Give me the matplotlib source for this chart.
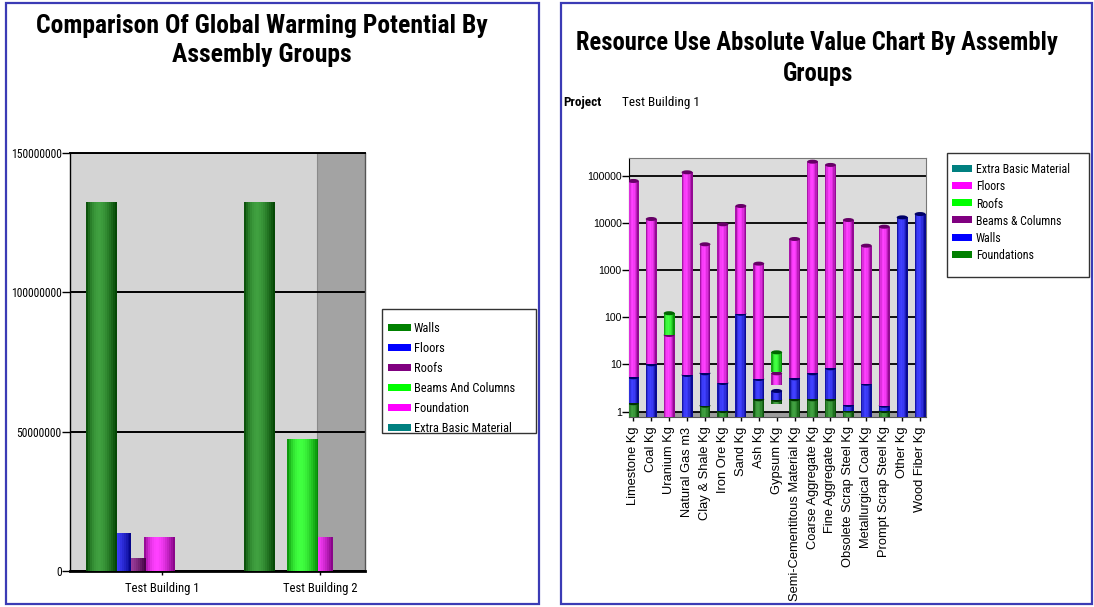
import numpy as np
import matplotlib
matplotlib.use("Agg")
import matplotlib.pyplot as plt
from matplotlib import font_manager as fm
from matplotlib.patches import Rectangle, Ellipse
from matplotlib.transforms import ScaledTranslation
from matplotlib.colors import to_rgb
from matplotlib.ticker import NullLocator
from matplotlib.textpath import TextPath
from matplotlib.font_manager import FontProperties

REGULAR = ["Liberation Sans", "DejaVu Sans"]

# ---- Global warming potential by assembly group ----
gwp_projects = ["Test Building 1", "Test Building 2"]
gwp_series = ["Walls", "Floors", "Roofs", "Beams And Columns", "Foundation",
              "Extra Basic Material"]
gwp_colors = ["#008000", "#0000ff", "#800080", "#00ff00", "#ff00ff", "#008080"]
gwp_walls = [132500000, 132500000]
gwp_floors = [13500000, 0]
gwp_roofs = [4600000, 0]
gwp_beams = [0, 47400000]
gwp_foundation = [12300000, 12300000]
gwp_extra = [0, 0]
gwp_yticks = [0, 50000000, 100000000, 150000000]

# ---- Resource use, stacked by assembly group (segment from / to values) ----
resources = ["Limestone Kg", "Coal Kg", "Uranium Kg", "Natural Gas m3",
             "Clay & Shale Kg", "Iron Ore Kg", "Sand Kg", "Ash Kg", "Gypsum Kg",
             "Semi-Cementitous Material Kg", "Coarse Aggregate Kg",
             "Fine Aggregate Kg", "Obsolete Scrap Steel Kg",
             "Metallurgical Coal Kg", "Prompt Scrap Steel Kg", "Other Kg",
             "Wood Fiber Kg"]
ru_foundations = [(0, 1.51), None, None, None, (0, 1.34), (0, 1.03), None,
                  (0, 1.83), (1.44, 1.77), (0, 1.83), (0, 1.83), (0, 1.83),
                  (0, 1.05), None, (0, 1.03), None, None]
ru_walls = [(1.51, 5.36), (0, 10.1), None, (0, 6.0), (1.34, 6.5), (1.03, 4.05),
            (0, 119), (1.83, 4.93), (1.77, 2.75), (1.83, 5.1), (1.83, 6.5),
            (1.83, 8.3), (1.05, 1.39), (0, 3.92), (1.03, 1.34), (0, 13100),
            (0, 15400)]
ru_floors = [(5.36, 77300), (10.1, 12100), (0, 42.2), (6.0, 118000),
             (6.5, 3520), (4.05, 9340), (119, 22800), (4.93, 1370),
             (3.68, 6.5), (5.1, 4560), (6.5, 198000), (8.3, 169000),
             (1.39, 11500), (3.92, 3290), (1.34, 8300), None, None]
ru_roofs = [None, None, (42.2, 122), None, None, None, None, None, (7.0, 18.1),
            None, None, None, None, None, None, None, None]
ru_legend = ["Extra Basic Material", "Floors", "Roofs", "Beams & Columns",
             "Walls", "Foundations"]
ru_legend_colors = ["#008080", "#ff00ff", "#00ff00", "#800080", "#0000ff",
                    "#008000"]
ru_yticks = [1, 10, 100, 1000, 10000, 100000]


# ---- condensed font: first narrow face that is installed ----
def pick_condensed():
    have = [(f.name, f.stretch) for f in fm.fontManager.ttflist]
    names = {n for n, _ in have}
    for fam in ("Liberation Sans Narrow", "Arial Narrow", "Roboto Condensed",
                "Open Sans Condensed", "Noto Sans Condensed",
                "DejaVu Sans Condensed"):
        if fam in names:
            return fam, "normal"
    for fam in ("Noto Sans", "DejaVu Sans", "Open Sans", "Roboto"):
        for st in ("condensed", "semi-condensed"):
            if (fam, st) in have:
                return fam, st
    return "Liberation Sans", "normal"


COND_FAMILY, COND_STRETCH = pick_condensed()


def cond_props(size, bold=False):
    return FontProperties(family=[COND_FAMILY, "DejaVu Sans"],
                          stretch=COND_STRETCH, size=size,
                          weight="bold" if bold else "normal")


def fit_size(sample, width_px, max_pt, bold=False):
    """Font size (pt) giving `sample` about `width_px` pixels, capped."""
    tp = TextPath((0, 0), sample, size=100, prop=cond_props(100, bold))
    ext = tp.get_extents()
    pt = width_px * 72.0 / (ext.x1 - ext.x0)
    return min(pt, max_pt)


W, H = 1094, 607
fig = plt.figure(figsize=(W / 100, H / 100), dpi=100)
fig.patch.set_facecolor("white")

# Full-figure overlay in pixel units (y downwards) for frames, titles, legends
ov = fig.add_axes([0, 0, 1, 1], zorder=-1)
ov.set_xlim(0, W)
ov.set_ylim(H, 0)
ov.axis("off")


def shade(color, t):
    """Colour across a cylinder: dark rims, lighter band left of centre."""
    base = np.array(to_rgb(color))
    s = np.sin(np.pi * t ** 0.8)
    dark = base * 0.5
    light = base + (1 - base) * 0.25
    return np.clip(dark + (light - dark) * s, 0, 1)


def cylinder(ax, left, width, bottom, top, color, n, z):
    left = np.asarray(left, float)
    bottom = np.asarray(bottom, float)
    top = np.asarray(top, float)
    step = width / n
    for k in range(n):
        t = (k + 0.5) / n
        w = step * (1.6 if k < n - 1 else 1.0)
        ax.bar(left + k * step, top - bottom, w, bottom=bottom, align="edge",
               color=shade(color, t), linewidth=0, zorder=z)


# ---------------- left chart ----------------
axL = fig.add_axes([70 / W, (H - 571) / H, 295 / W, 418 / H])
axL.set_facecolor("#d4d4d4")
axL.axvspan(0.981, 1.285, color="#a3a3a3", lw=0, zorder=0.2)
axL.axvline(0.981, color="#8a8a8a", lw=0.8, zorder=0.3)

gwp_values = [gwp_walls, gwp_floors, gwp_roofs, gwp_beams, gwp_foundation,
              gwp_extra]
bar_w, bar_step, bar_first = 0.196, 0.0918, -0.481
gx = np.arange(len(gwp_projects))
for k, (vals, col) in enumerate(zip(gwp_values, gwp_colors)):
    vals = np.asarray(vals, float)
    m = vals > 0
    if not m.any():
        continue
    lefts = gx[m] + bar_first + k * bar_step
    cylinder(axL, lefts, bar_w, np.zeros(m.sum()), vals[m], col, 16,
             3 + (len(gwp_values) - k) * 0.1)

axL.set_xlim(-0.582, 1.285)
axL.set_ylim(0, 150000000)
axL.set_yticks(gwp_yticks)
axL.set_yticklabels([str(v) for v in gwp_yticks],
                    fontproperties=cond_props(fit_size("150000000", 50, 8.8)))
axL.set_xticks(gx)
axL.set_xticklabels(gwp_projects,
                    fontproperties=cond_props(fit_size("Test Building 1", 72,
                                                       9.6)))
axL.grid(axis="y", color="black", lw=1.4)
axL.set_axisbelow(True)
axL.tick_params(axis="y", length=5.8, width=1, pad=0.3)
axL.tick_params(axis="x", length=3, width=1, pad=5)
axL.spines["left"].set_linewidth(1)
axL.spines["bottom"].set_linewidth(2)
axL.spines["top"].set_linewidth(1.4)
axL.spines["right"].set_color("#555555")
axL.spines["right"].set_linewidth(1)

# ---------------- right chart ----------------
axR = fig.add_axes([629 / W, (H - 416.7) / H, 297 / W, 258.7 / H])
axR.set_yscale("log")
axR.set_facecolor("#dcdcdc")
xlo, xhi = -0.24, 16.33
ylo, yhi = 0.783, 237000
axR.axhspan(ylo, 1.0, color="#9c9c9c", lw=0, zorder=0.2)

cyl_w = 0.61
axes_w_in = (297 / W) * fig.get_figwidth()
cap_w_in = cyl_w * axes_w_in / (xhi - xlo)
cap_h_in = 0.04

ru_stack = [(ru_foundations, "#008000"), (ru_walls, "#0000ff"),
            (ru_floors, "#ff00ff"), (ru_roofs, "#00ff00")]
for level, (segs, col) in enumerate(ru_stack):
    idx = np.array([i for i, s in enumerate(segs) if s is not None])
    lows = np.array([segs[i][0] for i in idx], float)
    highs = np.array([segs[i][1] for i in idx], float)
    z = 3 + level
    cylinder(axR, idx - cyl_w / 2, cyl_w, lows, highs, col, 8, z)
    cap_col = np.array(to_rgb(col)) * 0.4
    for i, hi in zip(idx, highs):
        cap = Ellipse((0, 0), cap_w_in, cap_h_in, facecolor=cap_col,
                      edgecolor="none", zorder=z + 0.5,
                      transform=fig.dpi_scale_trans
                      + ScaledTranslation(i, hi, axR.transData))
        axR.add_artist(cap)

axR.set_xlim(xlo, xhi)
axR.set_ylim(ylo, yhi)
axR.set_yticks(ru_yticks)
axR.yaxis.set_minor_locator(NullLocator())
axR.set_yticklabels([str(v) for v in ru_yticks], family=REGULAR, fontsize=7.6)
axR.set_xticks(np.arange(len(resources)))
axR.set_xticklabels(resources, rotation=90, family=REGULAR, fontsize=9.3)
axR.grid(axis="y", which="major", color="black", lw=1.3)
axR.set_axisbelow(True)
axR.tick_params(axis="y", length=4.8, width=1, pad=0.5)
axR.tick_params(axis="x", length=3, width=1, pad=4)
axR.spines["top"].set_color("#777777")
axR.spines["right"].set_color("#777777")
axR.spines["bottom"].set_color("#555555")

# ---------------- frames, titles and legends ----------------
for x0, w in ((6, 533), (561, 531)):
    ov.add_patch(Rectangle((x0, 3), w, 601, fill=False, edgecolor="#3b3bb5",
                           lw=1.6))

left_title = ["Comparison Of Global Warming Potential By", "Assembly Groups"]
right_title = ["Resource Use Absolute Value Chart By Assembly", "Groups"]
lt_fp = cond_props(fit_size(left_title[0], 451, 18.7, bold=True), bold=True)
rt_fp = cond_props(fit_size(right_title[0], 480, 17.8, bold=True), bold=True)
ov.text(262, 33, left_title[0], ha="center", va="baseline", fontproperties=lt_fp)
ov.text(262, 62, left_title[1], ha="center", va="baseline", fontproperties=lt_fp)
ov.text(817, 50, right_title[0], ha="center", va="baseline",
        fontproperties=rt_fp)
ov.text(818, 81, right_title[1], ha="center", va="baseline",
        fontproperties=rt_fp)

proj_pt = fit_size("Test Building 1", 75, 10.1)
ov.text(563, 106, "Project", va="baseline",
        fontproperties=cond_props(proj_pt, bold=True))
ov.text(622, 106, "Test Building 1", va="baseline",
        fontproperties=cond_props(proj_pt))


def legend_box(x, y, w, h, names, colors, y0, dy, sx, sw, tx, fp):
    ov.add_patch(Rectangle((x, y), w, h, facecolor="white",
                           edgecolor="#333333", lw=1))
    for i, (name, col) in enumerate(zip(names, colors)):
        yc = y0 + dy * i
        ov.add_patch(Rectangle((sx, yc - 3.5), sw, 7, facecolor=col,
                               edgecolor="none"))
        ov.text(tx, yc, name, va="center_baseline", ha="left",
                fontproperties=fp)


legend_box(382, 309, 154, 124, gwp_series, gwp_colors, 327, 20, 388, 23, 414,
           cond_props(fit_size("Beams And Columns", 100, 9.4)))
legend_box(947, 153, 142, 124, ru_legend, ru_legend_colors, 168.3, 17.2, 952,
           20, 976, cond_props(fit_size("Extra Basic Material", 92, 8.8)))

fig.savefig("out.png", dpi=100)
